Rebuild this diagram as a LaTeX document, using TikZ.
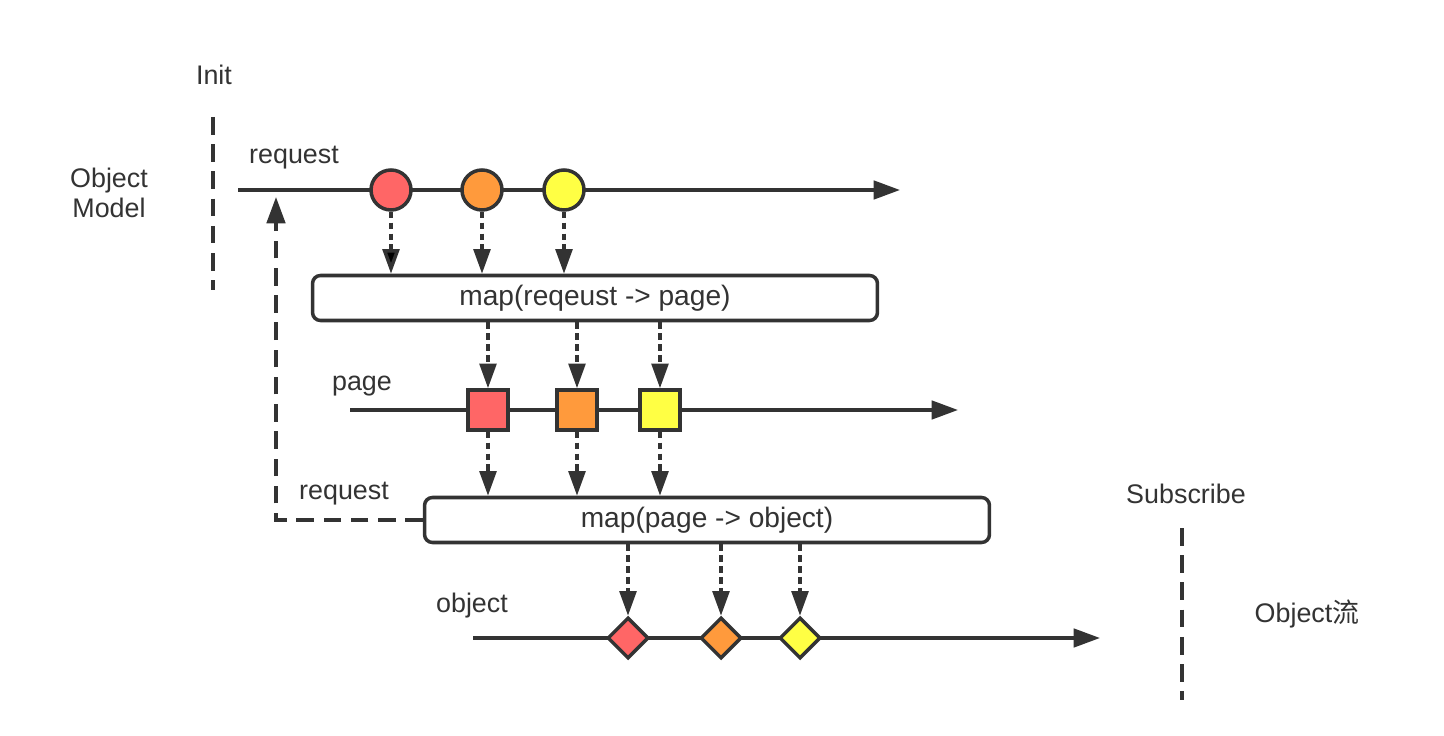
\documentclass[tikz,border=0pt]{standalone}
\usepackage{fontspec}
\setmainfont{Liberation Sans}
\newfontfamily\cjk{Noto Sans CJK SC}
\usetikzlibrary{shapes.geometric,arrows.meta}
\definecolor{ink}{HTML}{333333}
\definecolor{evred}{HTML}{FF6666}
\definecolor{evorange}{HTML}{FF9A3C}
\definecolor{evyellow}{HTML}{FFFF44}

\begin{document}
\begin{tikzpicture}[x=0.02cm,y=-0.02cm]
  \tikzset{ lbl/.style={text=ink,font=\fontsize{15.3}{17.5}\selectfont,inner sep=0pt},
    ev/.style={draw=ink,line width=2pt,inner sep=0pt},
    c/.style={ev,circle,minimum size=0.8cm},
    sq/.style={ev,rectangle,minimum size=0.8cm},
    dm/.style={ev,diamond,minimum size=0.82cm},
    op/.style={lbl,font=\fontsize{16}{18}\selectfont,draw=ink,line width=2pt,rounded corners=4.5pt,fill=white,minimum height=0.9cm},
    flow/.style={draw=ink,line width=1.9pt,-{Triangle[length=15pt,width=10.5pt]}},
    dotarr/.style={draw=ink,line width=2pt,dash pattern=on 3.8pt off 2.4pt,-{Triangle[length=14pt,width=9.5pt]}},
    lim/.style={draw=ink,line width=2pt,dash pattern=on 10pt off 5.5pt},
  }
  \useasboundingbox (0,0) rectangle (1444,736);

  % labels
  \node[lbl] (init) at (214,75) {Init};
  \node[lbl,align=center] (om) at (109,193) {Object\\Model};
  \node[lbl] (req1) at (294,158) {request};
  \node[lbl] (pg) at (362,386) {page};
  \node[lbl] (req2) at (344,494) {request};
  \node[lbl] (obj) at (472,606) {object};
  \node[lbl] (sub) at (1186,494) {Subscribe};
  \node[lbl] (objflow) at (1307,614) {Object{\cjk 流}};

  % Init / Subscribe limits
  \coordinate (i1) at (213,117);
  \coordinate (i2) at (213,290);
  \coordinate (s1) at (1182,528);
  \coordinate (s2) at (1182,700);
  \draw[lim] (i1) -- (i2);
  \draw[lim] (s1) -- (s2);

  % the three timelines
  \coordinate (ra) at (238,190);
  \coordinate (rb) at (900,190);
  \coordinate (pa) at (350,410);
  \coordinate (pb) at (958,410);
  \coordinate (oa) at (473,638);
  \coordinate (ob) at (1100,638);
  \draw[flow] (ra) -- (rb);
  \draw[flow] (pa) -- (pb);
  \draw[flow] (oa) -- (ob);

  \node[c,fill=evred] (c1) at (391,190) {};
  \node[c,fill=evorange] (c2) at (482,190) {};
  \node[c,fill=evyellow] (c3) at (564,190) {};

  \node[sq,fill=evred] (q1) at (488,410) {};
  \node[sq,fill=evorange] (q2) at (577,410) {};
  \node[sq,fill=evyellow] (q3) at (660,410) {};

  \node[dm,fill=evred] (d1) at (628,638) {};
  \node[dm,fill=evorange] (d2) at (721,638) {};
  \node[dm,fill=evyellow] (d3) at (800,638) {};

  \node[op,minimum width=11.3cm] (mapA) at (595,298) {map(reqeust -> page)};
  \node[op,minimum width=11.3cm] (mapB) at (707,520) {map(page -> object)};

  % the connection between the events
  \draw[dotarr,-{Triangle[length=14pt,width=9.5pt,fill=black]}] (c1.south) -- (c1 |- mapA.north);
  \draw[dotarr] (c2.south) -- (c2 |- mapA.north);
  \draw[dotarr] (c3.south) -- (c3 |- mapA.north);

  \draw[dotarr] (mapA.south -| q1) -- (q1.north);
  \draw[dotarr] (mapA.south -| q2) -- (q2.north);
  \draw[dotarr] (mapA.south -| q3) -- (q3.north);

  \draw[dotarr] (q1.south) -- (q1 |- mapB.north);
  \draw[dotarr] (q2.south) -- (q2 |- mapB.north);
  \draw[dotarr] (q3.south) -- (q3 |- mapB.north);

  \draw[dotarr] (mapB.south -| d1) -- (d1.north);
  \draw[dotarr] (mapB.south -| d2) -- (d2.north);
  \draw[dotarr] (mapB.south -| d3) -- (d3.north);

  % back to request
  \coordinate (back) at (276,197);
  \draw[lim,-{Triangle[length=15pt,width=10.5pt]}] (mapB.west) -| (back);
\end{tikzpicture}
\end{document}
